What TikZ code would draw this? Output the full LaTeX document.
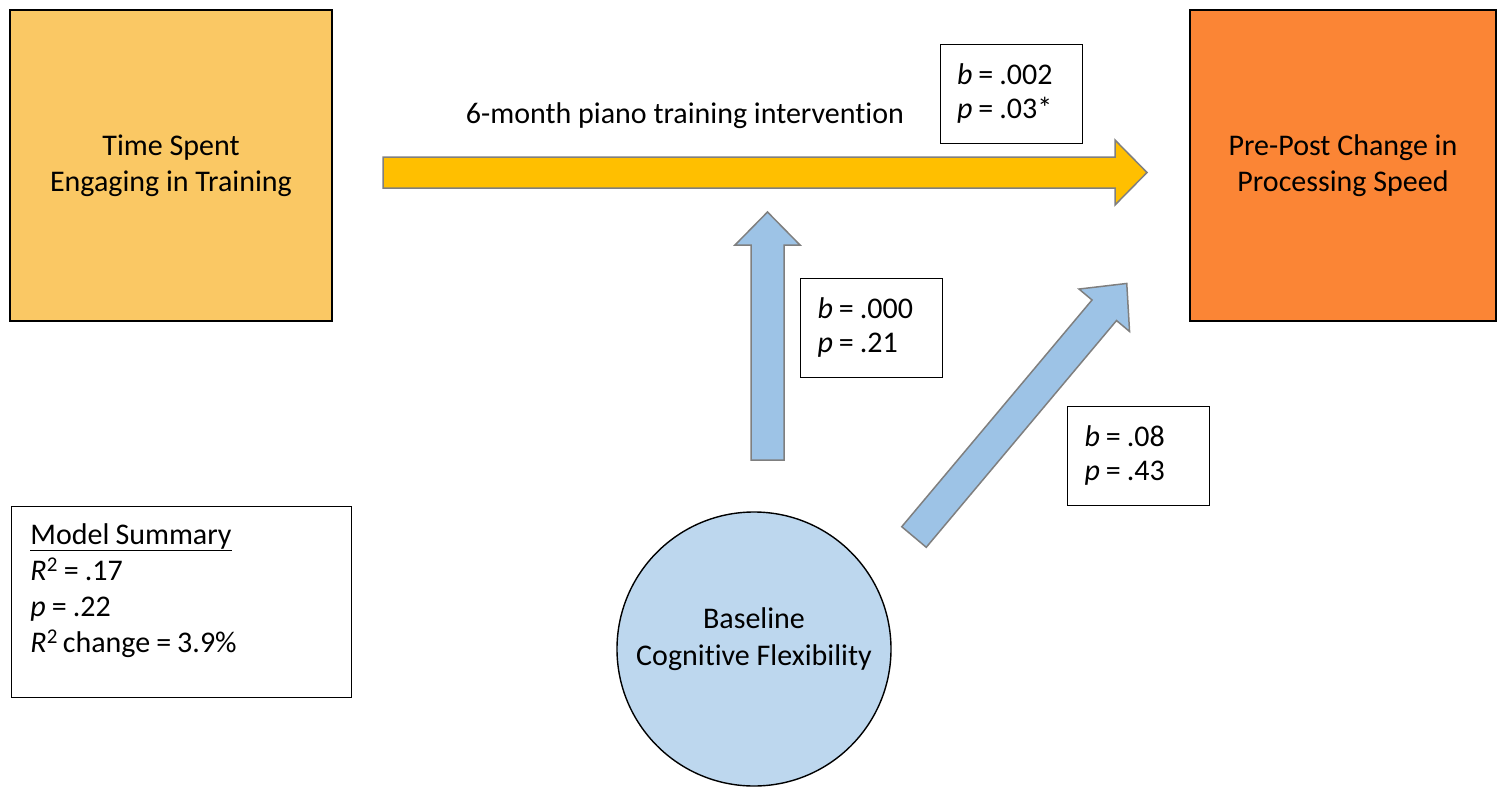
\documentclass[tikz,border=0pt]{standalone}
\usepackage{fontspec}
\setmainfont{Carlito}[Ligatures=NoCommon]
\usepackage{tikz}
\usetikzlibrary{positioning}
\definecolor{softorange}{RGB}{250,200,100}
\definecolor{deeporange}{RGB}{251,133,53}
\definecolor{goldarrow}{RGB}{255,191,0}
\definecolor{skyarrow}{RGB}{157,195,230}
\definecolor{paleblue}{RGB}{189,215,238}
\definecolor{edgegrey}{RGB}{127,127,127}

\begin{document}
\begin{tikzpicture}[
    x=1pt, y=-1pt,
    varbox/.style={
        draw,
        line width=1.4pt,
        align=center,
        font=\fontsize{30}{36}\selectfont,
        minimum height=311pt,
        inner sep=0pt
    },
    moderator/.style={
        draw,
        circle,
        line width=1.4pt,
        fill=paleblue,
        align=center,
        font=\fontsize{30}{37}\selectfont,
        minimum size=274pt,
        inner sep=0pt
    },
    statbox/.style={
        draw,
        line width=0.8pt,
        fill=white,
        align=left,
        font=\fontsize{30}{34}\selectfont,
        execute at begin node={\spaceskip=6pt\relax},
        text width=108pt,
        minimum height=99pt,
        inner xsep=17pt,
        inner ysep=5pt
    },
    fatarrow/.style={
        draw=edgegrey,
        line width=1.5pt,
        line join=miter
    }
]
\useasboundingbox (0,0) rectangle (1497,793);

% VARIABLES
\node[varbox, fill=softorange, minimum width=322pt] (timebox) at (171,165.5)
{Time Spent\\Engaging in Training};

\node[varbox, fill=deeporange, minimum width=306pt] (speedbox) at (1343,165.5)
{Pre-Post Change in\\Processing Speed};

\node[moderator] (flexcircle) at (754,649)
{Baseline\\Cognitive Flexibility\\[-13pt]~};

% BLOCK ARROWS
\draw[fatarrow, fill=goldarrow]
    (383,157) -- (1115,157) -- (1115,140) -- (1147,172.5)
    -- (1115,205) -- (1115,188) -- (383,188) -- cycle;

\draw[fatarrow, fill=skyarrow]
    (751,460) -- (751,245) -- (735,245) -- (767.5,212)
    -- (800,245) -- (784,245) -- (784,460) -- cycle;

\begin{scope}[shift={(914,537)}, rotate=50]
\draw[fatarrow, fill=skyarrow]
    (0,-16) -- (296,-16) -- (296,-33) -- (331,0)
    -- (296,33) -- (296,16) -- (0,16) -- cycle;
\end{scope}

% PATH LABELS
\node[font=\fontsize{30}{36}\selectfont] (pathlabel) at (685,116)
{6-month piano training intervention};

\node[statbox] (statmain) at (1011,93.5)
{{\itshape b} = .002\\{\itshape p} = .03*};

\node[statbox] (statmod) at (871.5,327.5)
{{\itshape b} = .000\\{\itshape p} = .21};

\node[statbox] (statdirect) at (1138.5,455.5)
{{\itshape b} = .08\\{\itshape p} = .43};

% MODEL SUMMARY
\node[statbox, font=\fontsize{30}{36}\selectfont, text width=302pt, inner xsep=19pt,
      minimum height=191pt] (summary) at (181.5,601.5)
{\underline{Model Summary}\\{\itshape R}\textsuperscript{2} = .17\\{\itshape p} = .22\\{\itshape R}\textsuperscript{2}\,change = 3.9\%\\[-9pt]~};

\end{tikzpicture}
\end{document}
